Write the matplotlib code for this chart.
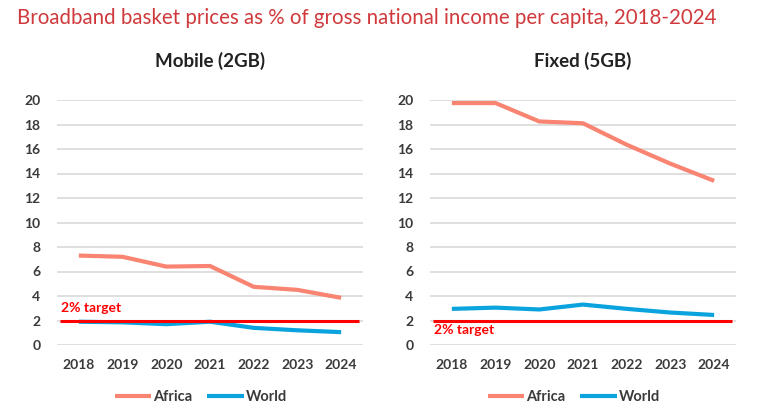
import numpy as np
import matplotlib.pyplot as plt

plt.rcParams['font.family'] = ['Lato', 'DejaVu Sans']

# ====== DATA ======
years = [2018, 2019, 2020, 2021, 2022, 2023, 2024]
mobile_africa = [7.3, 7.2, 6.4, 6.45, 4.75, 4.5, 3.85]
mobile_world = [1.9, 1.85, 1.7, 1.9, 1.4, 1.2, 1.05]
fixed_africa = [19.75, 19.75, 18.25, 18.1, 16.35, 14.8, 13.4]
fixed_world = [2.95, 3.05, 2.9, 3.3, 2.95, 2.65, 2.45]
target = 2.0
panel_titles = ["Mobile (2GB)", "Fixed (5GB)"]
yticks = list(range(0, 21, 2))

AFRICA = "#f98472"
WORLD = "#0aa3dd"
RED = "#ff0000"
TXT = "#3a3a3a"

fig = plt.figure(figsize=(7.64, 4.16), dpi=100)
fig.text(17/764, 1 - 18/416, "Broadband basket prices as % of gross national income per capita, 2018-2024",
         color="#d0393b", fontsize=14.8, ha="left", va="center")

panels = [
    (57, mobile_africa, mobile_world, panel_titles[0], 2.55, "bottom"),
    (430, fixed_africa, fixed_world, panel_titles[1], 1.7, "top"),
]
bottom = (416 - 345) / 416
height = 245 / 416
width = 306 / 764

for left_px, africa, world, title, ty, tva in panels:
    ax = fig.add_axes([left_px / 764, bottom, width, height])
    ax.set_xlim(2017.5, 2024.5)
    ax.set_ylim(0, 20)
    ax.set_yticks(yticks)
    ax.set_xticks(years)
    ax.grid(axis="y", color="#d9d9d9", linewidth=1.2)
    ax.set_axisbelow(True)
    for s in ax.spines.values():
        s.set_visible(False)
    ax.tick_params(length=0, labelsize=10, labelcolor=TXT, pad=12)
    ax.tick_params(axis="x", pad=10)
    for lab in ax.get_xticklabels() + ax.get_yticklabels():
        lab.set_fontweight("bold")

    la, = ax.plot(years, africa, color=AFRICA, linewidth=3, solid_capstyle="butt", clip_on=False)
    lw, = ax.plot(years, world, color=WORLD, linewidth=3, solid_capstyle="butt", clip_on=False)
    ax.hlines(target, 2017.58, 2024.4, color=RED, linewidth=2.2, zorder=5)
    ax.text(2017.6, ty, "2% target", color=RED, fontsize=10, fontweight="bold",
            ha="left", va=tva)

    ax.set_title(title, fontsize=13.5, fontweight="bold", color="#222222", pad=24)
    ax.legend([la, lw], ["Africa", "World"], loc="upper center", bbox_to_anchor=(0.47, -0.13),
              ncol=2, frameon=False, handlelength=2.5, columnspacing=1.0, handletextpad=0.15,
              prop={"size": 10.5, "weight": "bold"}, labelcolor=TXT)

fig.savefig("out.png", dpi=100)
